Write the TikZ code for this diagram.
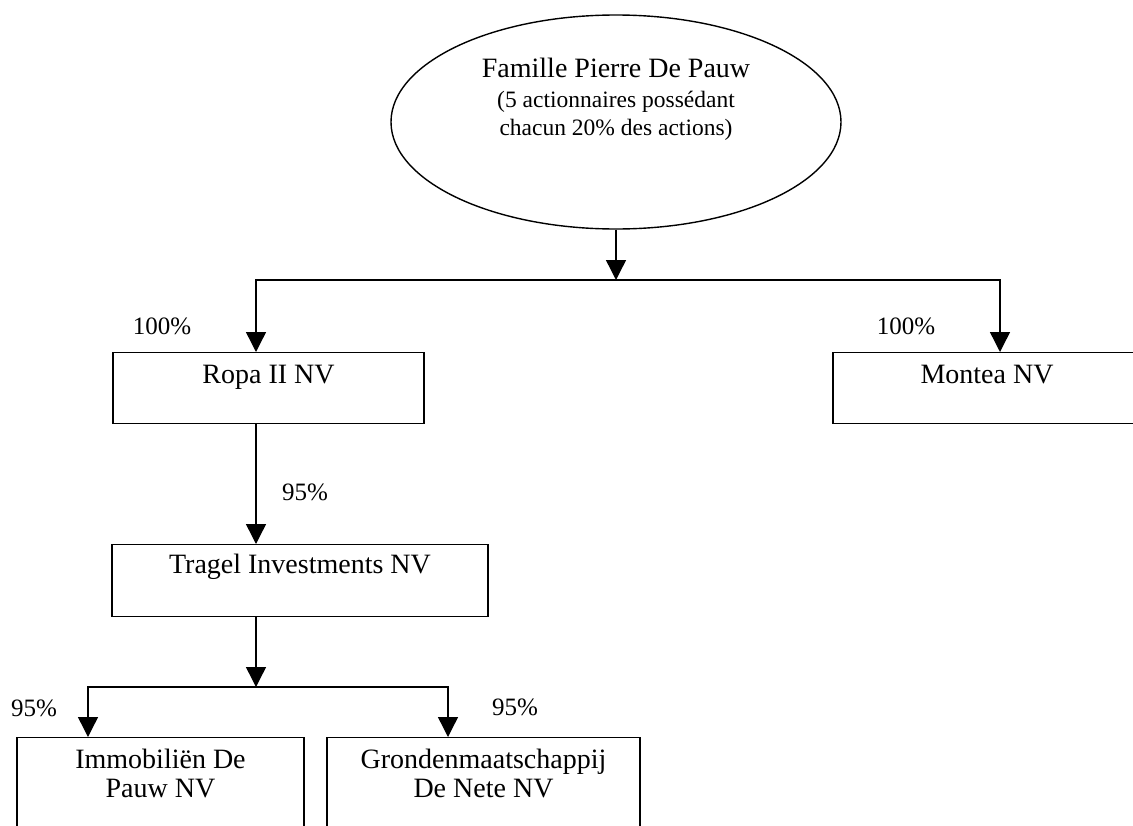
\documentclass[tikz,border=0pt]{standalone}
\usepackage{fontspec}
\setmainfont{Liberation Serif}
\usetikzlibrary{shapes.geometric,arrows.meta}

\newcommand{\boxfont}{\fontsize{28}{29}\selectfont}
\newcommand{\pctfont}{\fontsize{25}{28}\selectfont}

\begin{document}
\begin{tikzpicture}[x=1pt,y=-1pt,>={Triangle[length=20pt,width=20pt]},line width=1.4pt]
  \tikzset{
    firm/.style={draw,rectangle,inner sep=0pt,align=center,anchor=north,
                 text height=31pt,text depth=40pt,font=\boxfont},
    owner/.style={draw,ellipse,inner sep=0pt,align=center,minimum width=450pt,
                  minimum height=214pt,text height=80pt,text depth=54pt,
                  font=\fontsize{23.5}{28}\selectfont},
    pct/.style={font=\pctfont,inner sep=0pt}}
  \clip (0,0) rectangle (1133,825);
  \node[owner] (fam) at (616,122) {{\boxfont Famille Pierre De Pauw}\\[2pt](5 actionnaires possédant\\chacun 20\% des actions)};
  \node[firm,minimum width=311pt] (ropa) at (268.5,352) {Ropa II NV};
  \node[firm,minimum width=308pt] (montea) at (987,352) {Montea NV};
  \node[firm,minimum width=376pt,text height=29pt,text depth=43pt] (tragel) at (300,544) {Tragel Investments NV};
  \node[firm,minimum width=287pt,text height=60pt,text depth=100pt] (immo) at (160.5,737) {Immobiliën De\\Pauw NV};
  \node[firm,minimum width=313pt,text height=60pt,text depth=100pt] (grond) at (483.5,737) {Grondenmaatschappij\\De Nete NV};
  % branch points
  \coordinate (bl) at (256,280);
  \coordinate (br) at (1000,280);
  \coordinate (cl) at (88,687);
  \coordinate (cr) at (448,687);
  \draw[->] (fam.south) -- (fam.south |- bl);
  \draw[<->] (bl |- ropa.north) -- (bl) -- (br) -- (br |- montea.north);
  \draw[->] (bl |- ropa.south) -- (bl |- tragel.north);
  \draw[->] (bl |- tragel.south) -- (bl |- cl);
  \draw[<->] (cl |- immo.north) -- (cl) -- (cr) -- (cr |- grond.north);
  % shares
  \node[pct] (p1) at (162,326) {100\%};
  \node[pct] (p2) at (906,326) {100\%};
  \node[pct] (p3) at (305,492) {95\%};
  \node[pct] (p4) at (34,708) {95\%};
  \node[pct] (p5) at (515,707) {95\%};
\end{tikzpicture}
\end{document}
